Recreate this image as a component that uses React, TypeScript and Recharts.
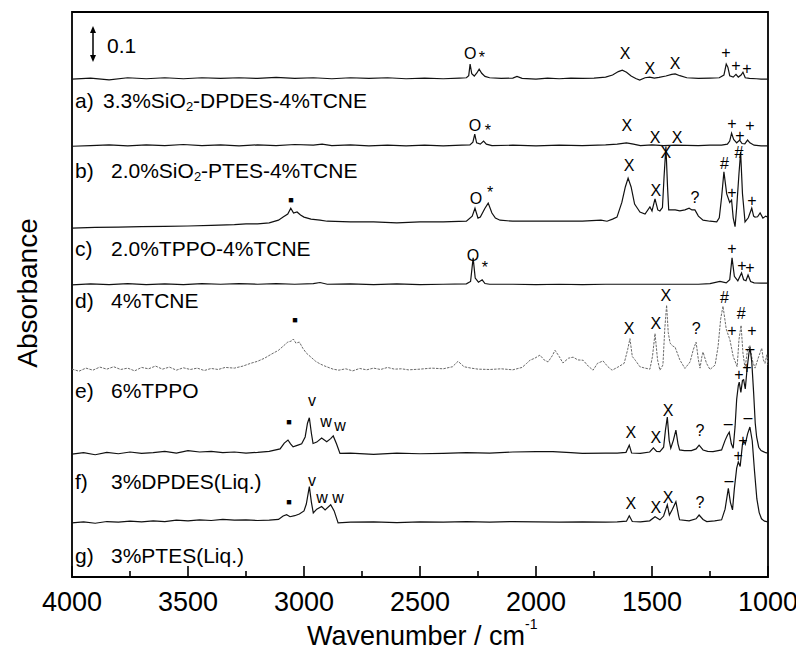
import React from 'react';
import { LineChart, Line, XAxis, YAxis, ReferenceArea, ReferenceDot } from 'recharts';

const FONT = '"Liberation Sans", Arial, Helvetica, sans-serif';

// ---- axis ticks ----
const wavenumberTicks = [4000, 3750, 3500, 3250, 3000, 2750, 2500, 2250, 2000, 1750, 1500, 1250, 1000];

// ---- spectrum names ----
const labelPrefixes = ['a)', 'b)', 'c)', 'd)', 'e)', 'f)', 'g)'];
const labelBodies = [
  ['3.3%SiO', '2', '-DPDES-4%TCNE'],
  ['2.0%SiO', '2', '-PTES-4%TCNE'],
  ['2.0%TPPO-4%TCNE', '', ''],
  ['4%TCNE', '', ''],
  ['6%TPPO', '', ''],
  ['3%DPDES(Liq.)', '', ''],
  ['3%PTES(Liq.)', '', ''],
];

// vertical offset of each spectrum (absorbance units)
const offsets = [1.454, 1.258, 1.019, 0.853, 0.604, 0.359, 0.158];

// ---- spectra: [wavenumber, absorbance above baseline] ----
const specA: [number, number][] = [
  [4000, 0], [3920, 0.003], [3840, -0.002], [3760, 0.004], [3680, 0.001], [3600, 0.004], [3520, 0.001], [3440, 0.004],
  [3360, 0.002], [3280, 0.004], [3200, 0.002], [3120, 0.005], [3040, 0.002], [2960, 0.004], [2880, 0.001], [2800, 0.004],
  [2720, 0.002], [2640, 0.004], [2560, 0.001], [2480, 0.003], [2400, 0.001], [2330, 0.003], [2300, 0.004], [2290, 0.01],
  [2284, 0.044], [2277, 0.016], [2266, 0.009], [2255, 0.018], [2245, 0.029], [2234, 0.017], [2220, 0.008], [2200, 0.004],
  [2150, 0.002], [2100, 0.003], [2082, 0.008], [2060, 0.002], [2000, 0.0], [1950, 0.003], [1900, 0.001], [1850, 0.003],
  [1800, 0.002], [1750, 0.003], [1700, 0.006], [1670, 0.012], [1645, 0.022], [1628, 0.026], [1610, 0.02], [1590, 0.009],
  [1570, 0.002], [1553, -0.003], [1530, 0.004], [1510, 0.006], [1490, 0.003], [1470, 0.005], [1440, 0.009], [1415, 0.014],
  [1400, 0.015], [1380, 0.01], [1350, 0.004], [1300, 0.002], [1250, 0.003], [1210, 0.004], [1190, 0.012], [1180, 0.044],
  [1173, 0.035], [1165, 0.01], [1150, 0.006], [1138, 0.014], [1128, 0.006], [1116, 0.012], [1108, 0.02], [1098, 0.004],
  [1080, 0.002], [1050, 0.001], [1030, 0.0], [1000, 0.0],
];

const specB: [number, number][] = [
  [4000, 0], [3920, 0.002], [3840, 0.004], [3760, 0.001], [3680, 0.004], [3600, 0.002], [3520, 0.005], [3440, 0.002],
  [3360, 0.004], [3280, 0.001], [3200, 0.004], [3120, 0.002], [3040, 0.005], [2960, 0.003], [2922, 0.006], [2880, 0.002],
  [2800, 0.004], [2720, 0.001], [2640, 0.003], [2560, 0.001], [2480, 0.003], [2400, 0.001], [2320, 0.003], [2285, 0.004],
  [2272, 0.012], [2264, 0.035], [2256, 0.01], [2240, 0.006], [2226, 0.015], [2214, 0.006], [2190, 0.002], [2100, 0.003],
  [2000, 0.001], [1900, 0.003], [1800, 0.002], [1700, 0.004], [1650, 0.006], [1610, 0.01], [1580, 0.006], [1550, 0.002],
  [1500, 0.004], [1450, 0.002], [1400, 0.003], [1300, 0.002], [1250, 0.003], [1200, 0.003], [1175, 0.006], [1165, 0.015],
  [1157, 0.038], [1148, 0.02], [1135, 0.01], [1122, 0.018], [1112, 0.008], [1100, 0.007], [1088, 0.018], [1078, 0.01],
  [1060, 0.003], [1030, 0.001], [1000, 0.001],
];

const specC: [number, number][] = [
  [4000, 0], [3900, 0.002], [3800, 0.003], [3700, 0.004], [3600, 0.005], [3500, 0.006], [3400, 0.008], [3300, 0.01],
  [3250, 0.012], [3200, 0.012], [3150, 0.015], [3110, 0.023], [3090, 0.032], [3070, 0.041], [3057, 0.058], [3045, 0.044],
  [3030, 0.047], [3015, 0.038], [3000, 0.032], [2970, 0.026], [2931, 0.023], [2900, 0.02], [2800, 0.018], [2700, 0.018],
  [2600, 0.015], [2500, 0.018], [2400, 0.018], [2300, 0.02], [2275, 0.035], [2263, 0.058], [2250, 0.029], [2240, 0.032],
  [2220, 0.058], [2206, 0.073], [2190, 0.044], [2175, 0.029], [2155, 0.023], [2100, 0.02], [2000, 0.02], [1900, 0.02],
  [1800, 0.02], [1720, 0.023], [1694, 0.02], [1670, 0.026], [1651, 0.032], [1630, 0.075], [1615, 0.12], [1603, 0.146],
  [1590, 0.12], [1575, 0.07], [1560, 0.055], [1552, 0.047], [1530, 0.041], [1509, 0.062], [1500, 0.05], [1487, 0.085],
  [1475, 0.053], [1466, 0.05], [1455, 0.06], [1448, 0.15], [1440, 0.238], [1433, 0.12], [1428, 0.053], [1400, 0.053],
  [1380, 0.05], [1358, 0.053], [1340, 0.058], [1328, 0.053], [1315, 0.053], [1300, 0.035], [1280, 0.023], [1250, 0.02],
  [1221, 0.018], [1210, 0.03], [1200, 0.09], [1190, 0.164], [1178, 0.1], [1165, 0.075], [1157, 0.082], [1150, 0.03],
  [1142, 0.004], [1135, 0.06], [1125, 0.16], [1118, 0.222], [1110, 0.1], [1099, 0.018], [1085, 0.03], [1070, 0.058],
  [1062, 0.035], [1056, 0.032], [1045, 0.033], [1034, 0.044], [1022, 0.029], [1010, 0.035], [1000, 0.032],
];

const specD: [number, number][] = [
  [4000, 0], [3920, 0.003], [3840, 0.001], [3760, 0.004], [3680, 0.001], [3600, 0.003], [3520, 0.001], [3440, 0.004],
  [3360, 0.002], [3280, 0.004], [3200, 0.002], [3120, 0.004], [3040, 0.002], [2960, 0.004], [2931, 0.007], [2900, 0.002],
  [2800, 0.003], [2700, 0.001], [2600, 0.003], [2500, 0.001], [2400, 0.002], [2300, 0.003], [2282, 0.01], [2271, 0.079],
  [2262, 0.02], [2248, 0.008], [2232, 0.015], [2220, 0.004], [2200, 0.002], [2100, 0.002], [2000, 0.001], [1900, 0.002],
  [1800, 0.001], [1700, 0.002], [1600, 0.002], [1500, 0.002], [1400, 0.002], [1300, 0.002], [1250, 0.004], [1207, 0.01],
  [1180, 0.006], [1165, 0.015], [1155, 0.079], [1145, 0.025], [1130, 0.012], [1114, 0.035], [1105, 0.015], [1095, 0.012],
  [1086, 0.029], [1075, 0.01], [1060, 0.006], [1030, 0.005], [1000, 0.005],
];

const specE: [number, number][] = [
  [4000, 0.003], [3970, -0.003], [3940, 0.006], [3910, 0.0], [3880, 0.009], [3850, 0.003], [3820, 0.01], [3790, 0.002],
  [3760, 0.006], [3730, -0.002], [3700, 0.008], [3670, 0.004], [3640, 0.012], [3610, 0.003], [3580, 0.009], [3550, 0.0],
  [3520, 0.007], [3490, 0.002], [3460, 0.006], [3430, -0.001], [3400, 0.005], [3370, 0.002], [3340, 0.008], [3300, 0.006],
  [3263, 0.012], [3230, 0.02], [3200, 0.026], [3170, 0.035], [3140, 0.047], [3110, 0.058], [3090, 0.07], [3070, 0.082],
  [3055, 0.085], [3046, 0.091], [3035, 0.079], [3020, 0.082], [3005, 0.064], [2990, 0.05], [2970, 0.038], [2950, 0.026],
  [2930, 0.018], [2910, 0.012], [2875, 0.003], [2850, 0.0], [2820, 0.004], [2790, -0.002], [2760, 0.005], [2730, 0.001],
  [2700, 0.006], [2670, 0.002], [2640, 0.008], [2610, 0.003], [2580, 0.004], [2550, 0.001], [2500, 0.003], [2450, 0.006],
  [2400, 0.004], [2360, 0.01], [2336, 0.026], [2310, 0.01], [2280, 0.006], [2250, 0.003], [2200, 0.002], [2150, 0.004],
  [2100, 0.001], [2060, 0.008], [2040, 0.02], [2026, 0.029], [2005, 0.035], [1983, 0.044], [1965, 0.03], [1948, 0.024],
  [1930, 0.042], [1918, 0.058], [1900, 0.04], [1884, 0.021], [1860, 0.035], [1840, 0.038], [1820, 0.03], [1797, 0.029],
  [1775, 0.012], [1754, 0.0], [1735, 0.02], [1711, 0.027], [1690, 0.01], [1672, 0.0], [1647, 0.009], [1620, 0.02],
  [1605, 0.06], [1595, 0.092], [1585, 0.04], [1572, 0.029], [1552, 0.01], [1530, 0.006], [1509, 0.003], [1498, 0.04],
  [1487, 0.107], [1476, 0.03], [1466, 0.0], [1453, 0.015], [1445, 0.12], [1437, 0.19], [1430, 0.11], [1422, 0.079],
  [1410, 0.07], [1401, 0.068], [1380, 0.03], [1358, 0.005], [1336, 0.024], [1322, 0.06], [1310, 0.082], [1300, 0.03],
  [1293, 0.006], [1285, 0.04], [1280, 0.053], [1265, 0.02], [1250, 0.002], [1228, 0.015], [1215, 0.07], [1204, 0.15],
  [1194, 0.187], [1180, 0.12], [1164, 0.088], [1150, 0.04], [1133, 0.01], [1125, 0.09], [1116, 0.131], [1108, 0.05],
  [1099, 0.006], [1088, 0.06], [1078, 0.073], [1068, 0.03], [1056, 0.006], [1040, 0.04], [1027, 0.064], [1020, 0.03],
  [1013, 0.02], [1005, 0.045], [1000, 0.015],
];

const specF: [number, number][] = [
  [4000, 0], [3950, 0.004], [3900, -0.002], [3850, 0.005], [3800, 0.001], [3750, 0.006], [3700, 0.002], [3650, 0.004],
  [3600, 0.008], [3550, 0.003], [3500, 0.01], [3450, 0.006], [3400, 0.008], [3350, 0.004], [3300, 0.006], [3250, 0.003],
  [3200, 0.005], [3150, 0.008], [3103, 0.015], [3085, 0.032], [3069, 0.041], [3058, 0.03], [3047, 0.021], [3026, 0.026],
  [3010, 0.03], [2995, 0.05], [2985, 0.09], [2977, 0.106], [2968, 0.06], [2961, 0.031], [2945, 0.035], [2924, 0.047],
  [2902, 0.036], [2885, 0.045], [2874, 0.053], [2860, 0.03], [2845, 0.002], [2800, 0.003], [2700, -0.001], [2600, 0.003],
  [2500, 0.001], [2400, 0.002], [2300, 0.004], [2200, 0.003], [2100, 0.006], [2000, 0.007], [1927, 0.007], [1850, 0.004],
  [1800, 0.002], [1700, 0.003], [1650, 0.003], [1612, 0.005], [1598, 0.026], [1588, 0.003], [1550, 0.002], [1510, 0.006],
  [1494, 0.018], [1480, 0.008], [1466, 0.007], [1450, 0.02], [1442, 0.07], [1434, 0.108], [1426, 0.04], [1419, 0.017],
  [1408, 0.04], [1397, 0.07], [1388, 0.03], [1381, 0.012], [1360, 0.01], [1330, 0.01], [1310, 0.015], [1297, 0.026],
  [1280, 0.012], [1260, 0.008], [1237, 0.007], [1215, 0.01], [1200, 0.012], [1185, 0.04], [1175, 0.055], [1167, 0.064],
  [1158, 0.03], [1150, 0.017], [1142, 0.08], [1135, 0.16], [1128, 0.2], [1124, 0.21], [1117, 0.18], [1110, 0.215],
  [1105, 0.217], [1098, 0.19], [1090, 0.25], [1083, 0.29], [1078, 0.312], [1070, 0.27], [1062, 0.18], [1055, 0.09],
  [1049, 0.05], [1040, 0.02], [1030, 0.01], [1020, 0.007], [1010, 0.004], [1000, 0.003],
];

const specG: [number, number][] = [
  [4000, 0], [3950, 0.003], [3900, -0.001], [3850, 0.004], [3800, 0.002], [3750, 0.005], [3700, 0.003], [3650, 0.006],
  [3600, 0.004], [3550, 0.008], [3500, 0.006], [3450, 0.009], [3400, 0.007], [3350, 0.01], [3300, 0.008], [3250, 0.009],
  [3200, 0.007], [3150, 0.008], [3110, 0.01], [3090, 0.02], [3075, 0.024], [3060, 0.018], [3040, 0.021], [3020, 0.026],
  [3000, 0.035], [2990, 0.055], [2977, 0.106], [2968, 0.06], [2960, 0.029], [2945, 0.04], [2924, 0.048], [2909, 0.038],
  [2885, 0.053], [2870, 0.035], [2853, 0.0], [2800, 0.002], [2700, 0.003], [2600, 0.001], [2500, 0.003], [2400, 0.002],
  [2300, 0.004], [2200, 0.002], [2100, 0.004], [2000, 0.003], [1900, 0.002], [1800, 0.003], [1700, 0.002], [1650, 0.003],
  [1610, 0.005], [1598, 0.021], [1585, 0.004], [1550, 0.003], [1510, 0.006], [1487, 0.018], [1466, 0.009], [1450, 0.02],
  [1434, 0.053], [1425, 0.023], [1412, 0.04], [1397, 0.062], [1385, 0.02], [1381, 0.009], [1340, 0.006], [1310, 0.012],
  [1297, 0.023], [1280, 0.01], [1264, 0.004], [1230, 0.006], [1200, 0.009], [1185, 0.04], [1171, 0.101], [1162, 0.06],
  [1153, 0.038], [1145, 0.1], [1135, 0.16], [1128, 0.178], [1120, 0.165], [1110, 0.23], [1105, 0.24], [1098, 0.23],
  [1088, 0.26], [1078, 0.28], [1068, 0.24], [1058, 0.15], [1048, 0.07], [1038, 0.03], [1028, 0.012], [1015, 0.005],
  [1000, 0.003],
];

const spectra = [specA, specB, specC, specD, specE, specF, specG];

// ---- peak assignment marks: [wavenumber, absorbance position, mark] ----
const marks: [number, number, string][] = [
  [2284, 1.530, 'O'], [2233, 1.518, '*'], [1616, 1.530, 'X'], [1509, 1.486, 'X'], [1401, 1.501, 'X'],
  [1181, 1.533, '+'], [1138, 1.495, '+'], [1091, 1.486, '+'],
  [2263, 1.320, 'O'], [2207, 1.305, '*'], [1608, 1.320, 'X'], [1487, 1.285, 'X'], [1392, 1.285, 'X'],
  [1155, 1.326, '+'], [1121, 1.291, '+'], [1078, 1.320, '+'],
  [3056, 1.101, '■'], [2259, 1.106, 'O'], [2198, 1.124, '*'], [1599, 1.203, 'X'], [1483, 1.130, 'X'],
  [1440, 1.241, 'X'], [1315, 1.109, '?'], [1188, 1.209, '#'], [1155, 1.124, '+'], [1125, 1.241, '#'], [1069, 1.101, '+'],
  [2272, 0.940, 'O'], [2220, 0.905, '*'], [1155, 0.961, '+'], [1112, 0.911, '+'], [1078, 0.905, '+'],
  [3039, 0.750, '■'], [1599, 0.727, 'X'], [1483, 0.742, 'X'], [1440, 0.823, 'X'], [1310, 0.727, '?'],
  [1188, 0.818, '#'], [1155, 0.721, '+'], [1116, 0.771, '#'], [1069, 0.721, '+'],
  [3065, 0.453, '■'], [2966, 0.517, 'v'], [2905, 0.455, 'w'], [2845, 0.444, 'w'], [1591, 0.423, 'X'],
  [1483, 0.409, 'X'], [1431, 0.488, 'X'], [1293, 0.429, '?'], [1172, 0.450, '–'], [1125, 0.593, '+'],
  [1091, 0.613, '+'], [1078, 0.668, '–'],
  [3065, 0.219, '■'], [2966, 0.283, 'v'], [2922, 0.234, 'w'], [2853, 0.234, 'w'], [1591, 0.216, 'X'],
  [1483, 0.204, 'X'], [1431, 0.234, 'X'], [1293, 0.219, '?'], [1168, 0.283, '–'], [1129, 0.356, '+'],
  [1108, 0.400, '+'], [1086, 0.467, '–'],
];

const W = 796;
const H = 638;

const BottomTick = (props: any) => {
  const { x, y, payload } = props;
  const v = payload.value;
  const major = v % 500 === 0;
  return (
    <g>
      <line x1={x} x2={x} y1={y} y2={y - (major ? 11 : 6)} stroke="#000" strokeWidth={1.6} />
      {major && (
        <text x={x} y={y + 25} textAnchor="middle" dominantBaseline="central" fontSize={27} fontFamily={FONT} fill="#000">
          {v}
        </text>
      )}
    </g>
  );
};

const TopTick = (props: any) => {
  const { x, y, payload } = props;
  const major = payload.value % 500 === 0;
  return <line x1={x} x2={x} y1={y} y2={y + (major ? 11 : 5)} stroke="#000" strokeWidth={1.6} />;
};

export default function App() {
  const labelYs = [92, 162, 240, 292, 382, 473, 547];
  return (
    <div style={{ position: 'relative', width: W, height: H }}>
      <LineChart width={W} height={H} margin={{ top: 4, right: W - 64 - 696, bottom: 9, left: 64 }}>
        <XAxis
          type="number"
          dataKey="w"
          domain={[1000, 4000]}
          reversed
          allowDataOverflow
          ticks={wavenumberTicks}
          interval={0}
          tickSize={0}
          tickMargin={0}
          tickLine={false}
          axisLine={false}
          height={60}
          tick={<BottomTick />}
        />
        <XAxis
          xAxisId="top"
          orientation="top"
          type="number"
          dataKey="w"
          domain={[1000, 4000]}
          reversed
          allowDataOverflow
          ticks={wavenumberTicks}
          interval={0}
          tickSize={0}
          tickMargin={0}
          tickLine={false}
          axisLine={false}
          height={0}
          tick={<TopTick />}
        />
        <YAxis hide type="number" domain={[0, 1.65]} allowDataOverflow />
        <ReferenceArea x1={4000} x2={1000} y1={0} y2={1.65} fill="none" stroke="#000" strokeWidth={1.8} />
        {spectra.map((s, i) => (
          <Line
            key={i}
            data={s.map(([w, a]) => ({ w, y: offsets[i] + a }))}
            dataKey="y"
            type="linear"
            dot={false}
            activeDot={false}
            isAnimationActive={false}
            stroke={i === 4 ? '#6a6a6a' : '#111'}
            strokeWidth={i === 4 ? 1 : 1.2}
            strokeDasharray={i === 4 ? '2.5 1.2' : undefined}
          />
        ))}
        {marks.map(([w, y, t], i) => (
          <ReferenceDot
            key={'m' + i}
            x={w}
            y={y}
            r={0}
            fill="none"
            stroke="none"
            label={{
              value: t,
              position: 'center',
              fontSize: t === '■' ? 9 : 16,
              fill: '#000',
              fontFamily: FONT,
            }}
          />
        ))}
      </LineChart>
      <svg
        width={W}
        height={H + 8}
        style={{ position: 'absolute', left: 0, top: 0, pointerEvents: 'none', overflow: 'visible' }}
        fontFamily={FONT}
      >
        {labelPrefixes.map((p, i) => (
          <g key={p}>
            <text x={67} y={labelYs[i]} fontSize={21} dominantBaseline="central" fill="#000">
              {p}
            </text>
            <text x={i === 0 ? 95 : 103} y={labelYs[i]} fontSize={21} dominantBaseline="central" fill="#000">
              {labelBodies[i][0]}
              {labelBodies[i][1] && (
                <tspan dy={6} fontSize={13}>
                  {labelBodies[i][1]}
                </tspan>
              )}
              {labelBodies[i][2] && <tspan dy={-6}>{labelBodies[i][2]}</tspan>}
            </text>
          </g>
        ))}
        {/* scale bar */}
        <line x1={85} x2={85} y1={22} y2={50} stroke="#000" strokeWidth={1.5} />
        <polygon points="85,18 82,25 88,25" fill="#000" />
        <polygon points="85,54 82,47 88,47" fill="#000" />
        <text x={99} y={37} fontSize={21} dominantBaseline="central" fill="#000">
          0.1
        </text>
        {/* axis titles */}
        <text
          x={19}
          y={285}
          fontSize={28}
          textAnchor="middle"
          dominantBaseline="central"
          transform="rotate(-90 19 285)"
          fill="#000"
        >
          Absorbance
        </text>
        <text x={299} y={628} fontSize={27} dominantBaseline="central" fill="#000">
          Wavenumber / cm
          <tspan fontSize={14} dy={-12}>
            -1
          </tspan>
        </text>
      </svg>
    </div>
  );
}
